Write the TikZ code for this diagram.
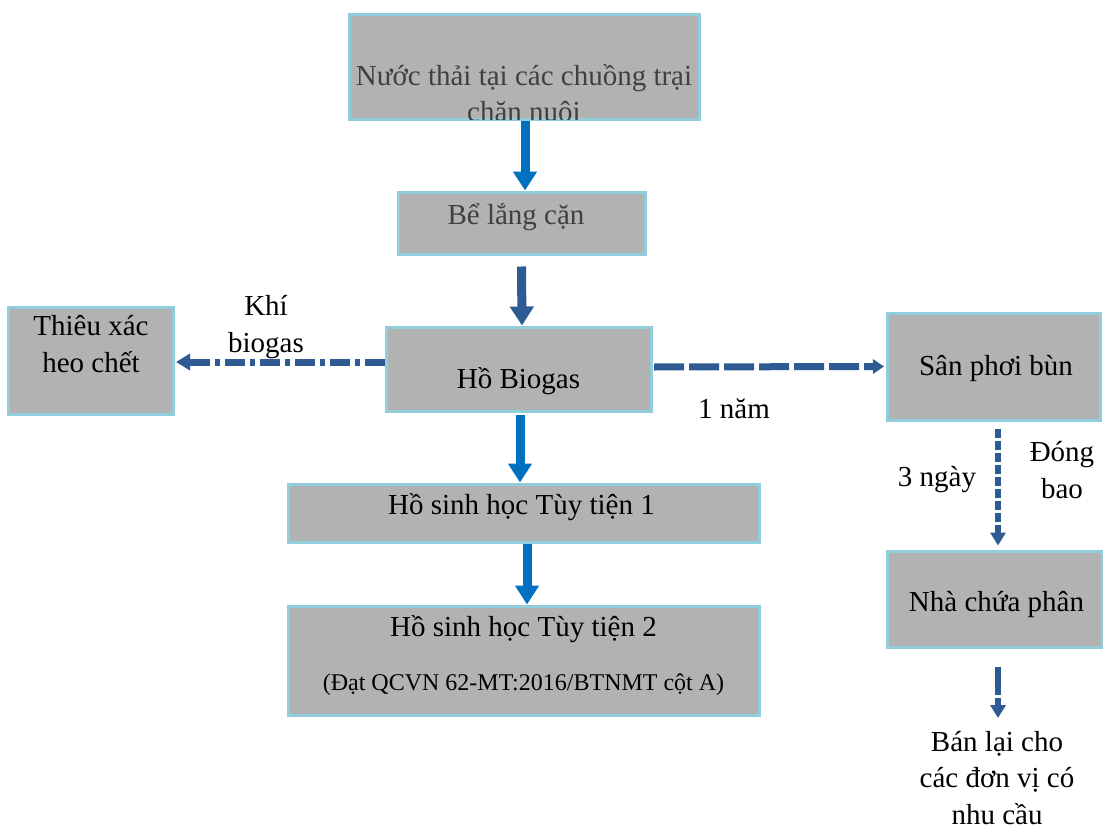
\documentclass[tikz,border=0pt]{standalone}
\usepackage{fontspec}
\setmainfont{Liberation Serif}
\usetikzlibrary{arrows.meta}
\definecolor{boxfill}{HTML}{B2B2B2}
\definecolor{boxline}{HTML}{92CDDC}
\definecolor{brightblue}{HTML}{0070C0}
\definecolor{steelblue}{HTML}{2F5B95}
\definecolor{darktext}{HTML}{404040}
\tikzset{
  box/.style={draw=boxline, fill=boxfill, line width=3pt, inner sep=0pt},
  txt/.style={inner sep=0pt, anchor=base, align=center, font=\fontsize{29}{36.5}\selectfont},
  smalltxt/.style={inner sep=0pt, anchor=base, font=\fontsize{24}{29}\selectfont},
  blockarrow/.style={line width=9pt, -{Triangle[width=23pt,length=19pt]}},
  dasharrow/.style={steelblue, line width=7pt, -{Triangle[width=14pt,length=11pt]}},
}
\begin{document}
\begin{tikzpicture}[x=1pt,y=-1pt]
\useasboundingbox (0,0) rectangle (1103,832);
% boxes
\node[box, minimum width=350pt, minimum height=105pt] (top) at (524,67.5) {};
\node[box, minimum width=247pt, minimum height=62pt] (bele) at (521.5,223) {};
\node[box, minimum width=165pt, minimum height=107pt] (thieu) at (90.5,360.5) {};
\node[box, minimum width=265pt, minimum height=84pt] (biogas) at (518.5,369) {};
\node[box, minimum width=213pt, minimum height=107pt] (san) at (993.5,366.5) {};
\node[box, minimum width=471pt, minimum height=58pt] (hsh1) at (523.5,513) {};
\node[box, minimum width=471pt, minimum height=109pt] (hsh2) at (523.5,660.5) {};
\node[box, minimum width=215pt, minimum height=96pt] (nha) at (994.5,599) {};
% clipped text of the top box
\begin{scope}
\clip ([shift={(1.5pt,1.5pt)}]top.south west) rectangle ([shift={(-1.5pt,-1.5pt)}]top.north east);
\node[txt, text=darktext] (toptxt1) at (524,86) {Nước thải tại các chuồng trại};
\node[txt, text=darktext] (toptxt2) at (524,122) {chăn nuôi};
\end{scope}
% texts (multi-line nodes: base = baseline of the last line)
\node[txt, text=darktext] (beletxt) at (516,224) {Bể lắng cặn};
\node[txt] (thieutxt) at (91,372) {Thiêu xác\\heo chết};
\node[txt] (biogastxt) at (518.5,388) {Hồ Biogas};
\node[txt] (santxt) at (996,375) {Sân phơi bùn};
\node[txt] (hsh1txt) at (521.5,514) {Hồ sinh học Tùy tiện 1};
\node[txt] (hsh2txt) at (523.5,636) {Hồ sinh học Tùy tiện 2};
\node[smalltxt] (hsh2sub) at (523.5,690) {(Đạt QCVN 62-MT:2016/BTNMT cột A)};
\node[txt] (nhatxt) at (996.5,611) {Nhà chứa phân};
\node[txt] (khi) at (266,352) {Khí\\biogas};
\node[txt] (nam) at (734,418) {1 năm};
\node[txt] (ngay) at (937,486) {3 ngày};
\node[txt] (dong) at (1062,498) {Đóng\\bao};
\node[txt] (ban) at (997,824) {Bán lại cho\\các đơn vị có\\nhu cầu};
% block arrows
\draw[blockarrow, brightblue] ([xshift=1pt]top.south) -- ([xshift=3.5pt]bele.north);
\draw[blockarrow, steelblue] ([yshift=-11pt]bele.south) -- ([xshift=3.5pt]biogas.north);
\draw[blockarrow, brightblue] ([xshift=1.5pt,yshift=-2pt]biogas.south) -- ([xshift=-3.5pt]hsh1.north);
\draw[blockarrow, brightblue] ([xshift=3.5pt]hsh1.south) -- ([xshift=3.5pt]hsh2.north);
% dashed arrows
\draw[dasharrow, dash pattern=on 20pt off 5pt on 5pt off 5pt, -{Triangle[width=16pt,length=14pt]}]
  ([yshift=7pt]biogas.west) -- ([shift={(1.5pt,-1.5pt)}]thieu.east);
\draw[dasharrow, dash pattern=on 30pt off 5pt] ([xshift=1.5pt,yshift=2pt]biogas.east) -- ([xshift=-1.5pt]san.west);
\draw[dasharrow, line width=6.5pt, dash pattern=on 9pt off 3pt, -{Triangle[width=15pt,length=13pt]}] ([xshift=4.5pt,yshift=-7pt]san.south) -- ([xshift=3.5pt,yshift=4pt]nha.north);
\coordinate (banend) at (998,718);
\draw[dasharrow, line width=6.5pt, dash pattern=on 28pt off 3pt, -{Triangle[width=15pt,length=13pt]}] ([xshift=3.5pt,yshift=-18pt]nha.south) -- (banend);
\end{tikzpicture}
\end{document}
